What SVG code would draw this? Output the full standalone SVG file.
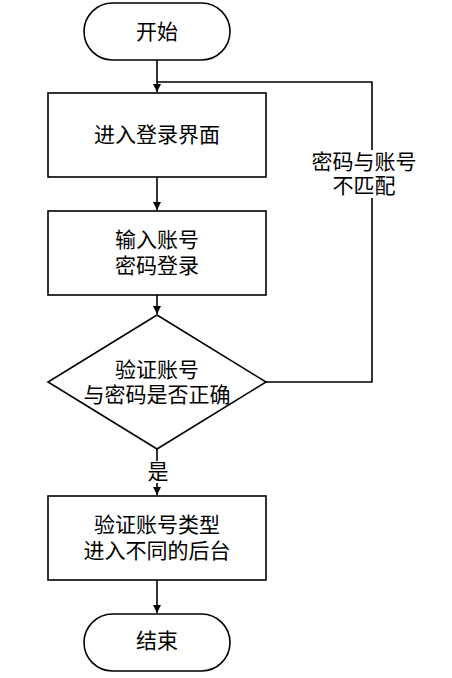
<svg xmlns="http://www.w3.org/2000/svg" width="452" height="678" viewBox="0 0 452 678">
<style>
.s{fill:#fff;stroke:#000;stroke-width:1.6}
.c{fill:none;stroke:#000;stroke-width:1.6}
text{font-family:"Liberation Serif","Noto Sans CJK SC",serif;font-size:21px;fill:#000;text-anchor:middle;dominant-baseline:central}
</style>
<defs>
<marker id="a" markerWidth="10" markerHeight="10" refX="9" refY="5" orient="auto" markerUnits="userSpaceOnUse">
<path d="M1,1 L9,5 L1,9 Z" fill="#000"/>
</marker>
</defs>
<g id="connectors">
<path class="c" d="M157,60 V92" marker-end="url(#a)"/>
<path class="c" d="M157,177 V210" marker-end="url(#a)"/>
<path class="c" d="M157,295 V314" marker-end="url(#a)"/>
<path class="c" d="M157,449 V461"/>
<path class="c" d="M157,483 V495" marker-end="url(#a)"/>
<path class="c" d="M157,580 V613" marker-end="url(#a)"/>
<path class="c" d="M266,382 H372 V82 H157"/>
<rect x="316" y="150" width="94" height="48" fill="#fff"/>
<text x="364" y="162">密码与账号</text>
<text x="364" y="186">不匹配</text>
<text x="158" y="472">是</text>
</g>
<g id="start">
<rect class="s" x="84" y="3" width="146" height="57" rx="28.5"/>
<text x="157" y="32">开始</text>
</g>
<g id="login">
<rect class="s" x="48" y="93" width="218" height="84"/>
<text x="157" y="135">进入登录界面</text>
</g>
<g id="input">
<rect class="s" x="48" y="211" width="218" height="84"/>
<text x="157" y="240">输入账号</text>
<text x="157" y="266">密码登录</text>
</g>
<g id="check">
<path class="s" d="M157,315 L266,382 L157,449 L48,382 Z"/>
<text x="157" y="370">验证账号</text>
<text x="157" y="395">与密码是否正确</text>
</g>
<g id="type">
<rect class="s" x="48" y="496" width="218" height="84"/>
<text x="157" y="525">验证账号类型</text>
<text x="157" y="551">进入不同的后台</text>
</g>
<g id="end">
<rect class="s" x="84" y="614" width="146" height="57" rx="28.5"/>
<text x="157" y="641">结束</text>
</g>
</svg>
